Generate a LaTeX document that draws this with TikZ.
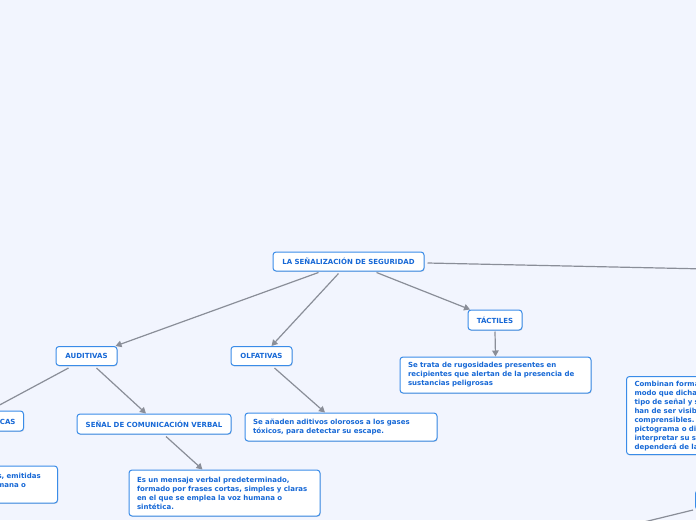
\documentclass[tikz,border=0pt]{standalone}
\usepackage{fontspec}
\setmainfont{DejaVu Sans}
\usetikzlibrary{arrows.meta,shadows}
\definecolor{bgc}{HTML}{F2F5FE}
\definecolor{bordc}{HTML}{3A8CE8}
\definecolor{txtc}{HTML}{1668D6}
\definecolor{linec}{HTML}{8A8E98}
\tikzset{
  box/.style={draw=bordc, line width=1pt, rounded corners=3pt, fill=white,
    text=txtc, font=\fontsize{7}{9}\selectfont\bfseries, inner ysep=3pt,
    drop shadow={shadow xshift=0.6pt, shadow yshift=-0.9pt, opacity=0.25}},
  title/.style={box, minimum height=19pt, inner xsep=6pt},
  desc/.style={box, align=left, inner xsep=8pt, inner ysep=4pt},
  conn/.style={draw=linec, line width=1.2pt, -{Triangle[length=6pt,width=6.5pt]}},
  plain/.style={draw=linec, line width=1.2pt}
}
\begin{document}
\begin{tikzpicture}[x=1pt,y=-1pt]
\useasboundingbox (0,0) rectangle (696,520);
\fill[bgc] (0,0) rectangle (696,520);
\clip (0,0) rectangle (696,520);

\node[title, minimum width=151pt] (main) at (348.5,261.5) {LA SEÑALIZACIÓN DE SEGURIDAD};
\node[title, minimum width=61pt] (aud) at (86.5,356) {AUDITIVAS};
\node[title, minimum width=61pt] (olf) at (261.5,356) {OLFATIVAS};
\node[title, minimum width=54pt, minimum height=20pt] (tac) at (495,320) {TÁCTILES};
\node[title, minimum width=154pt, minimum height=20pt] (ver) at (154,424) {SEÑAL DE COMUNICACIÓN VERBAL};
\node[title, minimum height=20pt, inner xsep=8pt, anchor=east] (acu) at (24,421) {ACÚSTICAS};
\node[title, minimum width=80pt, anchor=north west] (vis) at (695,490) {VISUALES};

\node[desc, text width=175pt, minimum height=36pt] (tacd) at (495.5,375)
  {Se trata de rugosidades presentes en\\recipientes que alertan de la presencia de\\sustancias peligrosas};
\node[desc, text width=176pt, minimum height=28pt] (olfd) at (341,427)
  {Se añaden aditivos olorosos a los gases\\tóxicos, para detectar su escape.};
\node[desc, text width=175pt, minimum height=46pt] (verd) at (224.5,493)
  {Es un mensaje verbal predeterminado,\\formado por frases cortas, simples y claras\\en el que se emplea la voz humana o\\sintética.};
\node[desc, text width=175pt, minimum height=37pt, anchor=east] (acud) at (58,484.5)
  {Son señales sonoras codificadas, emitidas\\por un dispositivo, y sin voz humana o\\sintética.};
\node[desc, text width=175pt, minimum height=78pt, anchor=north west] (optd) at (626,376)
  {Combinan formas geométricas y colores, de\\modo que dichas características indican el\\tipo de señal y su significado. Las señales\\han de ser visibles, inteligibles y\\comprensibles. Se acompañan de un\\pictograma o dibujo que permite\\interpretar su significado, y su eficacia\\dependerá de la iluminación.};

\coordinate (r1) at (800,271);
\coordinate (r2) at (607,531);

\draw[conn] ([xshift=-30pt,yshift=-1pt]main.south) -- ([xshift=-2pt]aud.north east);
\draw[conn] ([xshift=-10pt,yshift=-2pt]main.south) -- ([xshift=10pt]olf.north);
\draw[conn] ([xshift=28pt,yshift=-1pt]main.south) -- ([xshift=-25pt]tac.north);
\draw[conn] ([xshift=-18pt,yshift=-2pt]aud.south) -- ([xshift=-4pt]acu.north);
\draw[conn] ([xshift=10pt,yshift=-2pt]aud.south) -- ([xshift=-8pt]ver.north);
\draw[conn] ([xshift=13pt,yshift=-2pt]olf.south) -- ([xshift=-16pt]olfd.north);
\draw[conn] ([yshift=-1pt]tac.south) -- (tacd.north);
\draw[conn] ([xshift=12pt,yshift=-2pt]ver.south) -- ([xshift=-22pt]verd.north);
\draw[plain] ([xshift=3pt,yshift=-1.5pt]main.east) -- (r1);
\draw[plain] ([xshift=-2pt]vis.south west) -- (r2);
\end{tikzpicture}
\end{document}
